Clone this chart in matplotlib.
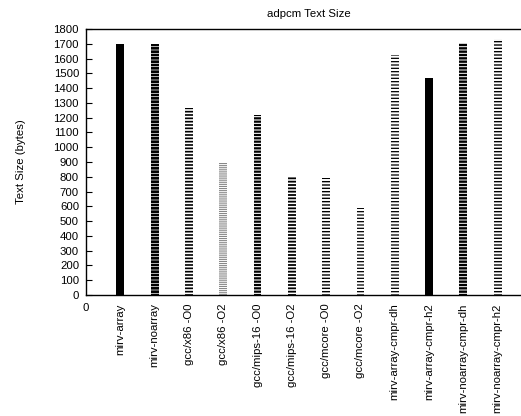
import numpy as np
import matplotlib
matplotlib.use("Agg")
import matplotlib.pyplot as plt

plt.rcParams['font.family'] = ['Liberation Sans', 'DejaVu Sans']

configs = ['mirv-array', 'mirv-noarray', 'gcc/x86 -O0', 'gcc/x86 -O2',
           'gcc/mips-16 -O0', 'gcc/mips-16 -O2', 'gcc/mcore -O0', 'gcc/mcore -O2',
           'mirv-array-cmpr-dh', 'mirv-array-cmpr-h2', 'mirv-noarray-cmpr-dh',
           'mirv-noarray-cmpr-h2']
text_size = [1700, 1700, 1267, 893, 1218, 803, 790, 588, 1626, 1468, 1704, 1734]

# fill style per column: (colour, hatch, hatch line width)
styles = [('black', None, 0),
          ('black', '-----', 1.9),
          ('black', '-----', 1.2),
          ('#888888', '--------', 0.8),
          ('black', '-----', 1.6),
          ('black', '-----', 1.3),
          ('black', '-----', 1.0),
          ('black', '-----', 0.9),
          ('black', '-----', 0.9),
          ('black', None, 0),
          ('black', '-----', 1.7),
          ('black', '-----', 1.0)]

fig = plt.figure(figsize=(5.21, 4.16), dpi=100)
ax = fig.add_axes([86 / 521, 1 - 295 / 416, (532 - 86) / 521, (295 - 29) / 416])

x = np.arange(1, len(configs) + 1)
for xi, val, (col, hatch, lw) in zip(x, text_size, styles):
    if hatch is None:
        ax.bar(xi, val, width=0.23, color=col, linewidth=0)
    else:
        with plt.rc_context({'hatch.linewidth': lw}):
            bars = ax.bar(xi, val, width=0.23, facecolor='white', edgecolor=col,
                          hatch=hatch, linewidth=0)
            for b in bars:
                if hasattr(b, 'set_hatch_linewidth'):
                    b.set_hatch_linewidth(lw)

ax.set_xlim(0, 13)
ax.set_ylim(0, 1800)
ax.set_yticks(np.arange(0, 1801, 100))
ax.set_xticks(np.concatenate([[0], x]))
ax.set_xticklabels(['0'] + configs, rotation=90, fontsize=8.2)
ax.get_xticklabels()[0].set_rotation(0)
ax.tick_params(axis='x', length=0, pad=6)
ax.tick_params(axis='y', direction='in', length=4, width=0.8, pad=5, labelsize=8.2)
ax.spines['right'].set_visible(False)
for s in ax.spines.values():
    s.set_linewidth(1.0)

ax.set_ylabel('Text Size (bytes)', fontsize=8.2, labelpad=20)
ax.set_title('adpcm Text Size', fontsize=8.2, pad=9)

fig.savefig('out.png', dpi=100)
